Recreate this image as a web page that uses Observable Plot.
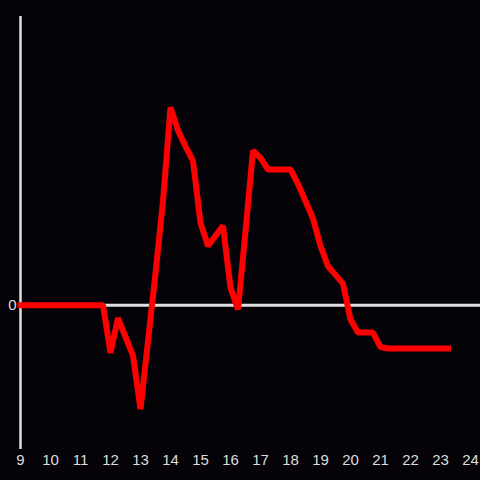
<!DOCTYPE html>
<html>
<head>
<meta charset="utf-8">
<script src="https://cdn.jsdelivr.net/npm/d3@7"></script>
<script src="https://cdn.jsdelivr.net/npm/@observablehq/plot@0.6"></script>
<style>
  html, body { margin: 0; padding: 0; background: #050307; }
  #chart svg { display: block; }
</style>
</head>
<body>
<div id="chart"></div>
<script>
// hours (every quarter hour) and values
const hours = [
  9, 9.25, 9.5, 9.75, 10, 10.25, 10.5, 10.75, 11, 11.25, 11.5, 11.75,
  12, 12.25, 12.5, 12.75, 13, 13.25, 13.5, 13.75, 14, 14.25, 14.5, 14.75,
  15, 15.25, 15.5, 15.75, 16, 16.25, 16.5, 16.75, 17, 17.25, 17.5, 17.75,
  18, 18.25, 18.5, 18.75, 19, 19.25, 19.5, 19.75, 20, 20.25, 20.5, 20.75,
  21, 21.25, 21.5, 21.75, 22, 22.25, 22.5, 22.75, 23, 23.25
];
const values = [
  0, 0, 0, 0, 0, 0, 0, 0, 0, 0, 0, 0,
  -0.33, -0.09, -0.22, -0.35, -0.72, -0.25, 0.22, 0.72, 1.37, 1.21, 1.10, 1.00,
  0.57, 0.41, 0.48, 0.55, 0.12, -0.03, 0.51, 1.07, 1.02, 0.94, 0.94, 0.94,
  0.94, 0.84, 0.72, 0.60, 0.41, 0.27, 0.21, 0.15, -0.10, -0.19, -0.19, -0.19,
  -0.29, -0.30, -0.30, -0.30, -0.30, -0.30, -0.30, -0.30, -0.30, -0.30
];
const xTicks = [9, 10, 11, 12, 13, 14, 15, 16, 17, 18, 19, 20, 21, 22, 23, 24];
const yTicks = [0];

const data = hours.map((h, i) => ({hour: h, value: values[i]}));

const chart = Plot.plot({
  width: 480,
  height: 480,
  marginLeft: 20,
  marginRight: 0,
  marginTop: 16,
  marginBottom: 31,
  style: {
    background: "#050307",
    color: "#dddddd",
    fontFamily: "'Liberation Sans', Arial, sans-serif",
    fontSize: "15px"
  },
  x: {domain: [9, 24 + 1/3], ticks: xTicks, tickFormat: d => String(d), tickSize: 0, tickPadding: 5, label: null},
  y: {domain: [-1, 2], ticks: yTicks, tickFormat: d => String(d), tickSize: 0, tickPadding: 4, label: null},
  marks: [
    Plot.ruleX([9], {stroke: "#e0e0e0", strokeWidth: 2.5}),
    Plot.ruleY([0], {stroke: "#e0e0e0", strokeWidth: 3}),
    Plot.line(data, {x: "hour", y: "value", stroke: "#ff0000", strokeWidth: 6, strokeLinecap: "square", strokeLinejoin: "miter"})
  ]
});
document.getElementById("chart").appendChild(chart);
</script>
</body>
</html>
